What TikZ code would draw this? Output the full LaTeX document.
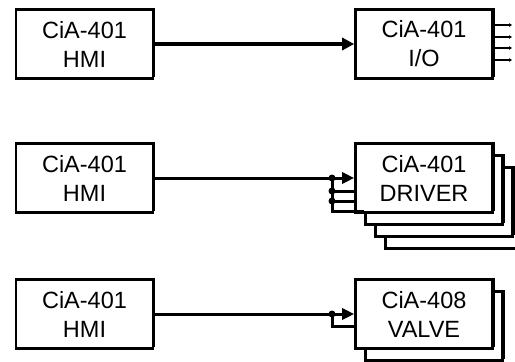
\documentclass[tikz,border=0pt]{standalone}
\usepackage{fontspec}
\setmainfont{Liberation Sans}
\usetikzlibrary{arrows.meta,shadows}
\begin{document}
\begin{tikzpicture}[x=1bp,y=-1bp,
  blk/.style={draw, line width=2.6bp, fill=white, minimum width=137bp, minimum height=69bp,
    inner sep=0pt, align=center, font=\fontsize{23.5bp}{29bp}\selectfont,
    drop shadow={shadow xshift=2bp, shadow yshift=2bp, fill=black, opacity=1}},
  bigarrow/.style={line width=4.2bp, -{Triangle[length=12bp,width=12bp]}},
  bus/.style={line width=3bp},
  busarrow/.style={line width=3bp, -{Triangle[length=12bp,width=11bp]}},
  outline/.style={line width=2.4bp, -{Triangle[length=3bp,width=3.5bp]}},
  jdot/.style={circle, fill=black, inner sep=0pt, minimum size=7bp}]
\useasboundingbox (0,0) rectangle (515,361);

% top row
\node[blk] (h1) at (84.5,44) {CiA-401\\HMI};
\node[blk] (io) at (424,44) {CiA-401\\I/O};
\draw[bigarrow] (h1.east) -- (io.west);
\coordinate (o1) at (512,25);
\coordinate (o2) at (512,37);
\coordinate (o3) at (512,48);
\coordinate (o4) at (512,60);
\foreach \o in {o1,o2,o3,o4} \draw[outline] (io.east |- \o) -- (\o);

% middle row
\node[blk] (h2) at (84.5,178) {CiA-401\\HMI};
\node[blk] (d4) at (454,214) {};
\node[blk] (d3) at (444,202) {};
\node[blk] (d2) at (434,190) {};
\node[blk] (d1) at (424,178) {CiA-401\\DRIVER};
\coordinate (j1) at (332,178);
\coordinate (j2) at (332,191);
\coordinate (j3) at (332,201);
\coordinate (j4) at (332,211);
\draw[bus] (h2.east) -- (j1);
\draw[busarrow] (j1) -- (d1.west);
\draw[bus] (j1) -- (j4) -- (d2.west |- j4);
\draw[bus] (j2) -- (j2 -| d1.west);
\draw[bus] (j3) -- (j3 -| d1.west);
\node[jdot] (dj1) at (j1) {};
\node[jdot] (dj2) at (j2) {};
\node[jdot] (dj3) at (j3) {};

% bottom row
\node[blk] (h3) at (84.5,314) {CiA-401\\HMI};
\node[blk] (v2) at (434,326) {};
\node[blk] (v1) at (424,314) {CiA-408\\VALVE};
\coordinate (k1) at (332,314);
\coordinate (k2) at (332,326);
\draw[bus] (h3.east) -- (k1);
\draw[busarrow] (k1) -- (v1.west);
\draw[bus] (k1) -- (k2) -- (v1.west |- k2);
\node[jdot] (dk1) at (k1) {};
\end{tikzpicture}
\end{document}
